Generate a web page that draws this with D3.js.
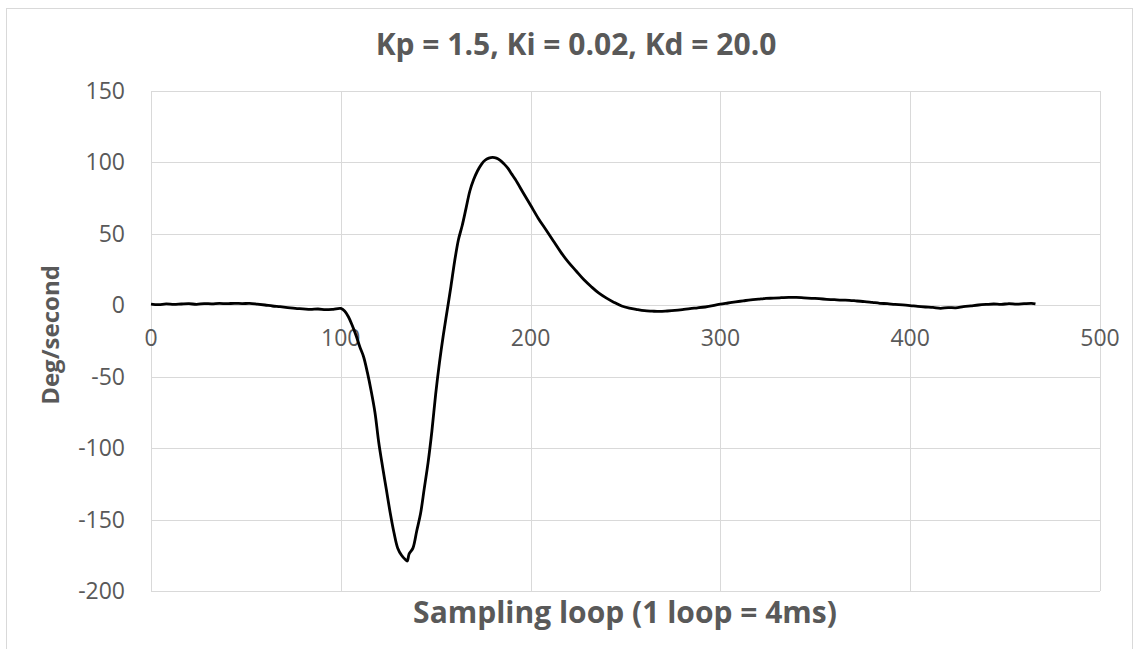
<!DOCTYPE html>
<html>
<head>
<meta charset="utf-8">
<script src="https://cdn.jsdelivr.net/npm/d3@7"></script>
<style>
  body { margin: 0; background: #fff; }
  text { font-family: "Open Sans", sans-serif; fill: #595959; }
</style>
</head>
<body>
<div id="chart"></div>
<script>
// sampling loop index
const loops = [
  0, 4, 8, 12, 16, 20, 24, 28, 32, 36, 40, 44, 48, 52, 56, 60, 64, 68, 72, 76,
  80, 84, 88, 92, 96, 100, 102, 104, 106, 108, 110, 112, 114, 116, 118, 120, 122, 124, 126, 128,
  130, 132, 134, 135, 136, 138, 140, 142, 144, 146, 148, 150, 152, 154, 156, 158, 160, 162, 164, 166,
  168, 170, 172, 174, 176, 178, 180, 182, 184, 186, 188, 190, 192, 196, 200, 204, 208, 212, 216, 220,
  224, 228, 232, 236, 240, 244, 248, 252, 256, 260, 264, 268, 272, 276, 280, 284, 288, 292, 296, 300,
  304, 308, 312, 316, 320, 324, 328, 332, 336, 340, 344, 348, 352, 356, 360, 364, 368, 372, 376, 380,
  384, 388, 392, 396, 400, 404, 408, 412, 416, 420, 424, 428, 432, 436, 440, 444, 448, 452, 456, 460,
  464, 466
];
// angular rate, deg/second
const degPerSec = [
  0.8, 0.4, 1.0, 0.6, 0.9, 1.1, 0.7, 1.2, 1.0, 1.3, 1.1, 1.4, 1.2, 1.3, 0.8, 0.2, -0.5, -1.0, -1.6, -2.2,
  -2.5, -2.9, -2.6, -3.1, -2.8, -2.2, -4, -8, -14, -21, -29, -36, -47, -60, -75, -96, -113, -129, -145, -159,
  -170, -175, -178, -179, -174, -170, -158, -146, -128, -110, -88, -62, -40, -21, -4, 13, 31, 46, 56, 68,
  80, 88, 94, 98.5, 101.5, 103, 103.5, 103, 101.5, 99, 96, 92, 88, 79, 70, 61, 53, 45, 37, 30,
  24, 18, 13, 8.5, 5, 2, -0.5, -2, -3, -3.8, -4.1, -4.3, -4, -3.6, -3, -2.3, -1.8, -1.2, -0.3, 0.8,
  1.6, 2.4, 3.1, 3.8, 4.3, 4.8, 5.0, 5.3, 5.6, 5.5, 5.2, 4.9, 4.6, 4.2, 3.9, 3.6, 3.5, 3.0, 2.6, 2.0,
  1.4, 1.1, 0.6, 0.3, -0.2, -0.8, -1.2, -1.5, -2.1, -1.6, -1.8, -1.0, -0.4, 0.2, 0.6, 0.9, 0.6, 1.2, 0.8, 1.1,
  1.3, 1.0
];
const xTicks = [0, 100, 200, 300, 400, 500];
const yTicks = [150, 100, 50, 0, -50, -100, -150, -200];

const W = 1135, H = 649;
const margin = {top: 91, right: 35, bottom: 58, left: 151};
const width = W - margin.left - margin.right,
      height = H - margin.top - margin.bottom;

const svg = d3.select("#chart").append("svg")
  .attr("width", W)
  .attr("height", H);

// outer chart border
svg.append("rect")
  .attr("x", 6.5).attr("y", 8.5)
  .attr("width", 1126).attr("height", 660)
  .attr("fill", "none")
  .attr("stroke", "#d9d9d9");

const g = svg.append("g")
  .attr("transform", "translate(" + margin.left + "," + margin.top + ")");

const x = d3.scaleLinear().domain([0, 500]).range([0, width]);
const y = d3.scaleLinear().domain([-200, 150]).range([height, 0]);

// gridlines
g.append("g").selectAll("line").data(xTicks).join("line")
  .attr("x1", d => Math.round(x(d)) + 0.5).attr("x2", d => Math.round(x(d)) + 0.5)
  .attr("y1", 0).attr("y2", height)
  .attr("stroke", "#d9d9d9");
g.append("g").selectAll("line").data(yTicks).join("line")
  .attr("x1", 0).attr("x2", width)
  .attr("y1", d => Math.round(y(d)) + 0.5).attr("y2", d => Math.round(y(d)) + 0.5)
  .attr("stroke", "#d9d9d9");

// y tick labels
g.append("g").selectAll("text").data(yTicks).join("text")
  .attr("x", -26)
  .attr("y", d => y(d))
  .attr("dy", "0.35em")
  .attr("text-anchor", "end")
  .style("font-size", "23px")
  .text(d => d);

// x tick labels sit just under the zero line
g.append("g").selectAll("text").data(xTicks).join("text")
  .attr("x", d => x(d))
  .attr("y", y(0) + 41)
  .attr("text-anchor", "middle")
  .style("font-size", "23px")
  .text(d => d);

// the response curve
const pts = loops.map((l, i) => ({loop: l, val: degPerSec[i]}));
const line = d3.line()
  .x(d => x(d.loop))
  .y(d => y(d.val))
  .curve(d3.curveCatmullRom);

g.append("path")
  .datum(pts)
  .attr("fill", "none")
  .attr("stroke", "#000")
  .attr("stroke-width", 2.8)
  .attr("stroke-linejoin", "round")
  .attr("d", line);

// titles
svg.append("text")
  .attr("x", 576).attr("y", 55)
  .attr("text-anchor", "middle")
  .style("font-size", "30px")
  .style("font-weight", "bold")
  .text("Kp = 1.5, Ki = 0.02, Kd = 20.0");

svg.append("text")
  .attr("x", 625).attr("y", 623)
  .attr("text-anchor", "middle")
  .style("font-size", "30px")
  .style("font-weight", "bold")
  .text("Sampling loop (1 loop = 4ms)");

svg.append("text")
  .attr("transform", "translate(59,335) rotate(-90)")
  .attr("text-anchor", "middle")
  .style("font-size", "24px")
  .style("font-weight", "bold")
  .text("Deg/second");
</script>
</body>
</html>
